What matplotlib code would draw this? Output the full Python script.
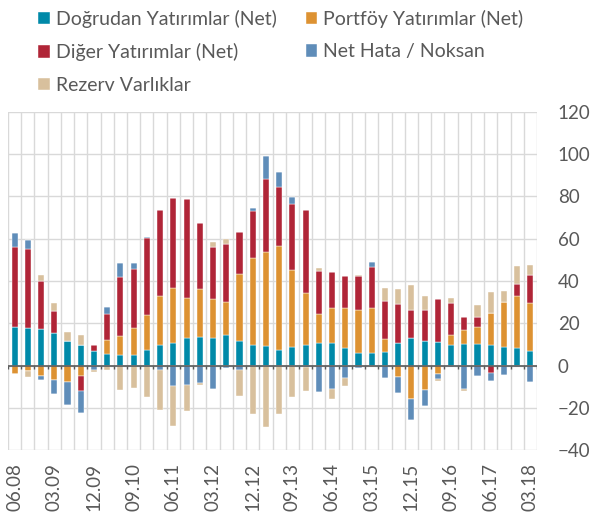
import matplotlib
matplotlib.use("Agg")
import matplotlib.pyplot as plt
import numpy as np

quarters = ["06.08","09.08","12.08","03.09","06.09","09.09","12.09","03.10","06.10","09.10",
            "12.10","03.11","06.11","09.11","12.11","03.12","06.12","09.12","12.12","03.13",
            "06.13","09.13","12.13","03.14","06.14","09.14","12.14","03.15","06.15","09.15",
            "12.15","03.16","06.16","09.16","12.16","03.17","06.17","09.17","12.17","03.18"]

dogrudan = [18.3,17.9,17.4,15.5,11.5,9.8,6.8,5.7,5.2,5.2,
            7.6,9.6,10.9,13.1,13.7,13.0,14.4,11.5,9.6,9.3,
            7.3,8.7,9.6,10.6,10.9,8.1,5.8,5.8,6.6,10.7,
            13.0,11.8,11.1,9.6,10.1,10.1,9.6,8.8,8.2,6.8]
portfoy = [-3.8,-2.7,-5.0,-7.0,-7.6,-4.7,0.0,6.3,8.7,12.8,
           16.1,23.1,25.6,18.7,22.5,18.3,15.6,31.6,41.1,44.3,
           49.1,36.3,24.5,13.9,16.3,18.9,20.4,21.2,6.2,-5.4,
           -15.8,-11.4,-3.8,4.9,6.6,8.2,15.4,21.2,24.5,22.6]
diger = [37.8,37.2,22.6,10.2,-0.4,-7.4,3.0,12.2,28.0,27.7,
         36.6,41.1,43.0,47.2,31.1,24.9,27.5,20.1,22.3,34.6,
         28.1,31.5,39.7,20.2,17.0,15.3,16.0,19.6,17.8,18.4,
         13.2,14.7,20.5,15.0,6.2,4.9,-3.5,0.0,5.7,13.3]
net_hata = [6.8,4.1,-2.0,-6.3,-10.8,-10.3,-2.2,3.6,6.4,2.8,
            0.7,-1.9,-9.8,-9.0,-8.2,-11.0,-1.1,-2.2,1.7,10.7,
            7.3,3.4,-0.9,-12.5,-11.0,-6.0,-1.3,2.2,-5.7,-7.7,
            -9.9,-7.9,-2.4,-0.5,-11.0,-4.7,-3.6,-4.4,-0.5,-7.9]
rezerv = [0.0,-2.8,2.7,4.1,4.4,4.9,-1.0,-2.2,-11.4,-10.7,
          -15.0,-19.0,-19.0,-12.6,-1.1,2.4,2.2,-12.0,-22.9,-29.2,
          -22.7,-15.0,-10.9,1.4,-4.8,-3.8,0.6,-0.8,6.2,6.9,
          12.0,6.2,-1.2,2.6,-0.8,5.4,9.9,5.5,8.5,5.0]

series = [
    ("Doğrudan Yatırımlar (Net)", dogrudan, "#0089A8"),
    ("Portföy Yatırımlar (Net)", portfoy, "#DD9232"),
    ("Diğer Yatırımlar (Net)", diger, "#B02537"),
    ("Net Hata / Noksan", net_hata, "#5F8DB9"),
    ("Rezerv Varlıklar", rezerv, "#D8C09D"),
]

plt.rcParams['font.family'] = ['Lato', 'DejaVu Sans']

fig = plt.figure(figsize=(5.9, 5.18), dpi=100)
ax = fig.add_axes([0.0136, 0.131, 0.8966, 0.653])

x = np.arange(len(quarters))
pos_base = np.zeros(len(quarters))
neg_base = np.zeros(len(quarters))
handles = []
for name, vals, col in series:
    v = np.array(vals, dtype=float)
    pos = np.where(v > 0, v, 0)
    neg = np.where(v < 0, v, 0)
    h = ax.bar(x, pos, bottom=pos_base, width=0.46, color=col, label=name, zorder=3,
               edgecolor='white', linewidth=0.3)
    ax.bar(x, neg, bottom=neg_base, width=0.46, color=col, zorder=3,
           edgecolor='white', linewidth=0.3)
    pos_base += pos
    neg_base += neg
    handles.append(h)

ax.set_xlim(-0.5, len(quarters) - 0.5)
ax.set_ylim(-40, 120)

# grid
for b in np.arange(-0.5, len(quarters), 1.0):
    ax.axvline(b, color='#d9d9d9', lw=1.0, zorder=1)
for yv in range(-40, 121, 20):
    ax.axhline(yv, color='#d9d9d9', lw=1.0, zorder=1)
ax.axhline(0, color='#595959', lw=1.2, zorder=4)
ax.vlines(np.arange(-0.5, len(quarters), 1.0), -1.8, 0, color='#595959', lw=1.0, zorder=4)

for s in ax.spines.values():
    s.set_visible(False)

ax.yaxis.tick_right()
ax.set_yticks(range(-40, 121, 20))
ax.tick_params(axis='y', length=0, pad=15, labelsize=13.5, labelcolor='#595959')
ax.set_xticks(x[::3])
ax.set_xticklabels(quarters[::3], rotation=90)
ax.tick_params(axis='x', length=0, pad=9, labelsize=13.5, labelcolor='#595959')

order = [0, 2, 4, 1, 3]
leg = fig.legend(handles=[handles[i] for i in order], loc='upper left',
                 bbox_to_anchor=(0.035, 1.015), ncol=2,
                 frameon=False, fontsize=14, handlelength=0.6, handleheight=0.6,
                 handletextpad=0.3, columnspacing=1.5, labelspacing=0.8,
                 labelcolor='#595959')

fig.savefig("out.png", dpi=100)
